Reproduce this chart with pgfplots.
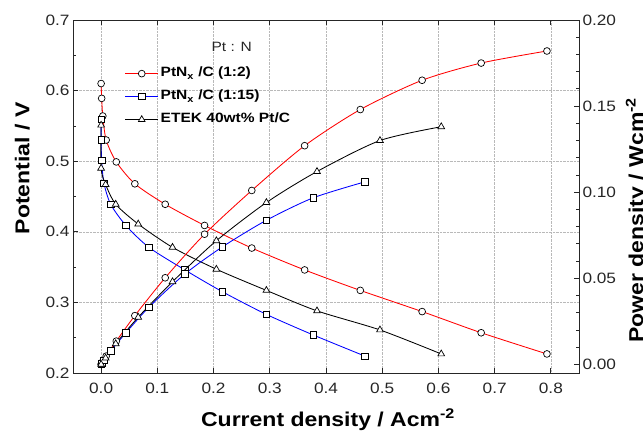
\documentclass[border=0pt]{standalone}
\usepackage{pgfplots}
\pgfplotsset{compat=1.18}
\usepackage{fontspec}
\setmainfont{Liberation Sans}[FakeStretch=1.15]
\definecolor{axc}{gray}{0.15}
\pgfplotsset{
  common/.style={
    at={(73bp,59bp)}, anchor=south west, scale only axis,
    width=506bp, height=353bp,
    xmin=-0.05, xmax=0.85,
    tick align=inside,
    major tick length=5bp, minor tick length=3bp,
    axis line style={axc, line width=0.9bp},
    every tick/.style={axc, line width=0.8bp},
    /pgf/number format/assume math mode=true,
    tick label style={font=\fontsize{15bp}{17bp}\selectfont, text=axc},
    label style={font=\fontsize{20bp}{23bp}\selectfont\bfseries},
  },
  pr/.style={red, line width=0.85bp, smooth, tension=0.45, mark=*, mark size=3.4bp,
     mark options={draw=black, fill=white, line width=0.7bp}},
  pb/.style={blue, line width=0.85bp, smooth, tension=0.45, mark=square*, mark size=3.2bp,
     mark options={draw=black, fill=white, line width=0.7bp}},
  pk/.style={black, line width=0.85bp, smooth, tension=0.45, mark=triangle*, mark size=3.9bp,
     mark options={draw=black, fill=white, line width=0.7bp}},
}
\begin{document}
\begin{tikzpicture}
\useasboundingbox (0,0) rectangle (643bp,432bp);
\begin{axis}[
  common,
  ymin=0.2, ymax=0.7,
  xtick={0,0.1,0.2,0.3,0.4,0.5,0.6,0.7,0.8},
  ytick={0.2,0.3,0.4,0.5,0.6,0.7},
  minor y tick num=1,
  ytick pos=left,
  xticklabel style={/pgf/number format/.cd, fixed, fixed zerofill, precision=1, /tikz/.cd, yshift=-7bp},
  yticklabel style={/pgf/number format/.cd, fixed, fixed zerofill, precision=1},
  grid=major,
  major grid style={densely dotted, gray!55, line width=0.6bp},
  xlabel={Current density / Acm\textsuperscript{-2}},
  ylabel={Potential / V},
  xlabel style={at={(axis description cs:0.504,-0.151)}, anchor=base, inner sep=0pt},
  ylabel style={at={(axis description cs:-0.115,0.58)}, anchor=north, inner sep=0pt},
  legend cell align=left,
  legend style={draw=none, fill=none, inner sep=0pt, row sep=6.5bp,
    at={(axis description cs:0.102,0.872)}, anchor=north west,
    font=\fontsize{13.5bp}{15bp}\selectfont\bfseries,
    nodes={inner sep=2bp, text height=9.5bp, text depth=3bp},
    /tikz/every even column/.append style={column sep=4bp}},
  legend image code/.code={\draw[mark repeat=2, mark phase=2] plot coordinates {(0bp,0bp) (16.5bp,0bp) (33bp,0bp)};},
]
\addplot[pr] coordinates {
(0.000,0.610) (0.001,0.589) (0.003,0.564) (0.009,0.530) (0.027,0.499)
(0.060,0.468) (0.114,0.439) (0.184,0.409) (0.268,0.377) (0.362,0.346)
(0.461,0.317) (0.571,0.287) (0.676,0.257) (0.793,0.227)};
\addlegendentry{PtN\textsubscript{x} /C (1:2)}
\addplot[pb] coordinates {
(0.000,0.559) (0.000,0.530) (0.001,0.501) (0.005,0.469) (0.017,0.439)
(0.044,0.409) (0.085,0.378) (0.149,0.346) (0.216,0.315) (0.294,0.283)
(0.377,0.254) (0.469,0.224)};
\addlegendentry{PtN\textsubscript{x} /C (1:15)}
\addplot[pk] coordinates {
(0.000,0.551) (0.000,0.490) (0.008,0.467) (0.026,0.439) (0.066,0.411)
(0.127,0.378) (0.205,0.347) (0.294,0.317) (0.384,0.288) (0.496,0.261)
(0.605,0.227)};
\addlegendentry{ETEK 40wt\% Pt/C}
\node[font=\fontsize{13.5bp}{15bp}\selectfont, text=axc] at (axis description cs:0.3136,0.924) {Pt : N};
\end{axis}
\begin{axis}[
  common,
  ymin=-0.005, ymax=0.20,
  axis x line=none,
  axis y line*=right,
  ytick={0,0.05,0.10,0.15,0.20},
  minor y tick num=4,
  yticklabel style={/pgf/number format/.cd, fixed, fixed zerofill, precision=2},
  ylabel={Power density / Wcm\textsuperscript{-2}},
  ylabel style={at={(axis description cs:1.092,0.433)}, anchor=north, inner sep=0pt},
]
\addplot[pr] coordinates {
(0.000,0.000) (0.001,0.0006) (0.003,0.0017) (0.009,0.0048) (0.027,0.0135)
(0.060,0.0283) (0.114,0.0503) (0.184,0.0756) (0.268,0.101) (0.362,0.127)
(0.461,0.148) (0.571,0.165) (0.676,0.175) (0.793,0.182)};
\addplot[pb] coordinates {
(0.000,0.000) (0.001,0.0005) (0.005,0.0023) (0.017,0.0078) (0.044,0.0183)
(0.085,0.0332) (0.149,0.0525) (0.216,0.0683) (0.294,0.0837) (0.377,0.0967)
(0.469,0.106)};
\addplot[pk] coordinates {
(0.000,0.000) (0.008,0.0037) (0.026,0.0120) (0.066,0.0274) (0.127,0.048)
(0.205,0.0718) (0.294,0.094) (0.384,0.112) (0.496,0.130) (0.605,0.138)};
\end{axis}
\end{tikzpicture}
\end{document}
